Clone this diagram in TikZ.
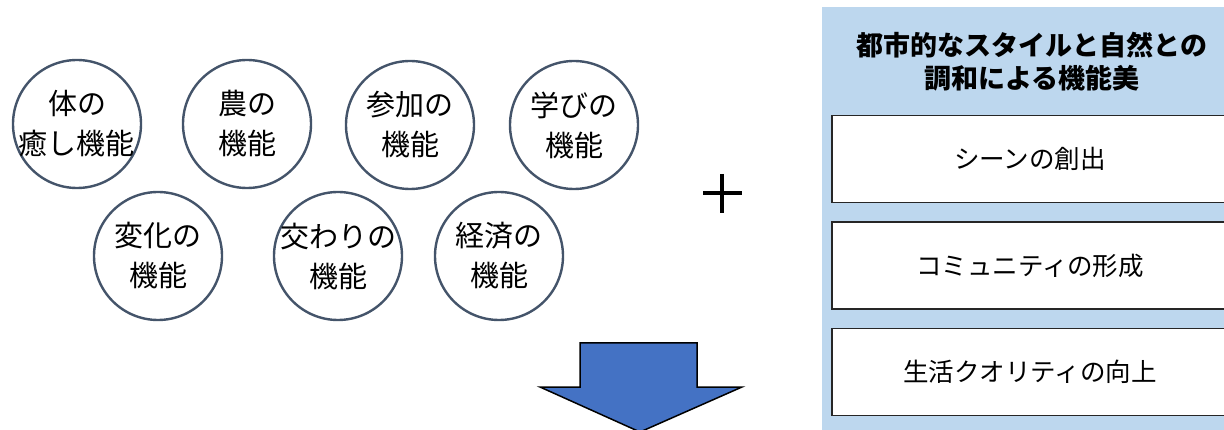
\documentclass[tikz,border=0pt]{standalone}
\usepackage{fontspec}
\newfontfamily\cjk{Noto Sans CJK JP}
\usepackage{tikz}
\usetikzlibrary{calc}

\definecolor{ringcol}{RGB}{68,84,106}
\definecolor{panelblue}{RGB}{189,215,238}
\definecolor{arrowblue}{RGB}{68,114,196}

\tikzset{
  func/.style={circle, draw=ringcol, line width=2.4pt, fill=white,
    minimum size=128pt, inner sep=0pt},
  functext/.style={align=center, inner sep=0pt,
    font=\cjk\fontsize{29pt}{40pt}\selectfont},
  itembox/.style={rectangle, draw=black!85, line width=1.6pt, fill=white,
    minimum width=396pt, minimum height=87pt, inner sep=0pt,
    font=\cjk\fontsize{25.5pt}{30pt}\selectfont},
  paneltitle/.style={align=center, inner sep=0pt,
    font=\cjk\bfseries\fontsize{27pt}{33pt}\selectfont}
}

\begin{document}
\begin{tikzpicture}[x=1pt,y=-1pt]

	% Fix the page to the reference size
	\useasboundingbox (0,0) rectangle (1224,430);

	% Draw the upper row of function circles
	\node[func, label={[functext]center:{体の\\癒し機能}}] (body) at (77,124) {};
	\node[func, label={[functext]center:{農の\\機能}}] (farm) at (247,124) {};
	\node[func, label={[functext]center:{参加の\\機能}}] (join) at (410,125) {};
	\node[func, label={[functext]center:{学びの\\機能}}] (learn) at (574,125) {};

	% Draw the lower row of function circles
	\node[func, label={[functext]center:{変化の\\機能}}] (change) at (158,256) {};
	\node[func, label={[functext]center:{交わりの\\機能}}] (meet) at (338,256) {};
	\node[func, label={[functext]center:{経済の\\機能}}] (econ) at (499,256) {};

	% Draw the plus sign
	\coordinate (plus) at (722,193);
	\draw[line width=4pt] ($(plus)+(-19,0)$) -- ($(plus)+(20,0)$);
	\draw[line width=4pt] ($(plus)+(0,-19)$) -- ($(plus)+(0,20)$);

	% Draw the big blue down arrow
	\draw[fill=arrowblue, draw=black, line width=1.5pt, line join=miter]
		(580,343) -- (697,343) -- (697,387) -- (742,387) -- (640,432)
		-- (540,387) -- (580,387) -- cycle;

	% Draw the light blue panel on the right
	\fill[panelblue] (822,7) rectangle (1240,440);

	% Draw the panel title
	\node[paneltitle] (title) at (1032,62) {都市的なスタイルと自然との\\調和による機能美};

	% Draw the three white item boxes
	\node[itembox] (scene) at (1030,159) {シーンの創出};
	\node[itembox] (community) at (1030,265.5) {コミュニティの形成};
	\node[itembox] (quality) at (1030,372) {生活クオリティの向上};

\end{tikzpicture}
\end{document}
